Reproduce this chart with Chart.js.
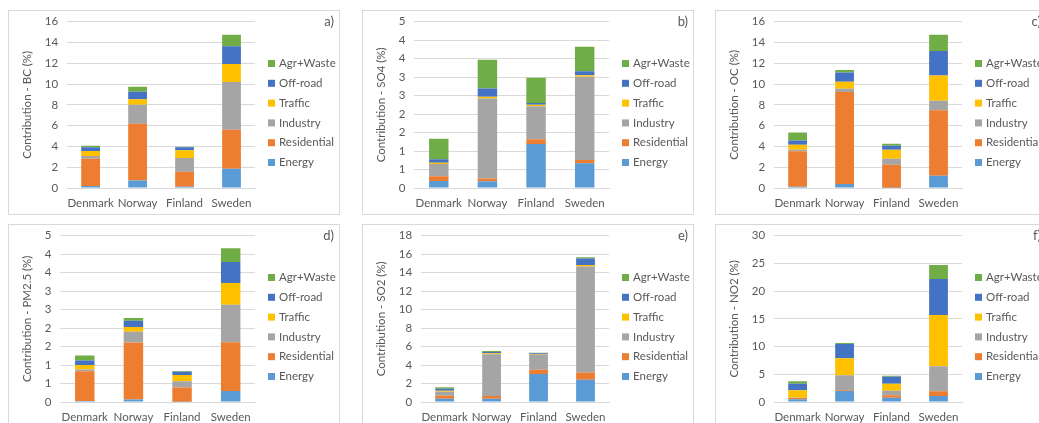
<!DOCTYPE html>
<html>
<head>
<meta charset="utf-8">
<script src="https://cdn.jsdelivr.net/npm/chart.js@4.4.1/dist/chart.umd.min.js"></script>
<style>
  html, body { margin: 0; padding: 0; background: #fff; overflow: hidden; }
  body { width: 1039px; height: 423px; position: relative; }
  .panel { position: absolute; width: 332px; height: 205px; box-sizing: border-box;
           border: 1px solid #d9d9d9; background: #fff; }
  .panel canvas { position: absolute; left: 0; top: 0; }
  #pa { left: 8px;   top: 10px; }
  #pb { left: 362px; top: 10px; }
  #pc { left: 715px; top: 10px; }
  #pd { left: 8px;   top: 224px; }
  #pe { left: 362px; top: 224px; }
  #pf { left: 715px; top: 224px; }
</style>
</head>
<body>
<div class="panel" id="pa"><canvas id="ca" width="330" height="203"></canvas></div>
<div class="panel" id="pb"><canvas id="cb" width="330" height="203"></canvas></div>
<div class="panel" id="pc"><canvas id="cc" width="330" height="203"></canvas></div>
<div class="panel" id="pd"><canvas id="cd" width="330" height="203"></canvas></div>
<div class="panel" id="pe"><canvas id="ce" width="330" height="203"></canvas></div>
<div class="panel" id="pf"><canvas id="cf" width="330" height="203"></canvas></div>
<script>
// Countries on the x axis and emission sectors stacked in each bar
const countries = ['Denmark', 'Norway', 'Finland', 'Sweden'];
const sectors = ['Energy', 'Residential', 'Industry', 'Traffic', 'Off-road', 'Agr+Waste'];
const sectorColors = ['#5B9BD5', '#ED7D31', '#A5A5A5', '#FFC000', '#4472C4', '#70AD47'];

// Contribution (%) per sector (rows, same order as sectors) and country (columns)
const bc = [
  [0.20, 0.71, 0.13, 1.86],
  [2.62, 5.48, 1.44, 3.75],
  [0.26, 1.82, 1.31, 4.58],
  [0.48, 0.52, 0.74, 1.73],
  [0.35, 0.73, 0.29, 1.73],
  [0.16, 0.48, 0.06, 1.09]
];
const so4 = [
  [0.19, 0.18, 1.19, 0.67],
  [0.13, 0.08, 0.13, 0.09],
  [0.33, 2.16, 0.89, 2.25],
  [0.03, 0.05, 0.04, 0.04],
  [0.10, 0.22, 0.05, 0.11],
  [0.55, 0.78, 0.68, 0.66]
];
const oc = [
  [0.13, 0.38, 0.03, 1.19],
  [3.40, 8.85, 2.21, 6.28],
  [0.16, 0.32, 0.58, 0.93],
  [0.48, 0.67, 0.87, 2.43],
  [0.41, 0.90, 0.38, 2.34],
  [0.77, 0.23, 0.19, 1.57]
];
const pm25 = [
  [0.03, 0.07, 0.01, 0.30],
  [0.80, 1.54, 0.38, 1.32],
  [0.05, 0.29, 0.17, 1.01],
  [0.12, 0.13, 0.17, 0.59],
  [0.12, 0.17, 0.09, 0.57],
  [0.14, 0.07, 0.02, 0.37]
];
const so2 = [
  [0.36, 0.36, 3.03, 2.42],
  [0.33, 0.29, 0.47, 0.76],
  [0.43, 4.51, 1.59, 11.48],
  [0.11, 0.11, 0.04, 0.18],
  [0.21, 0.15, 0.14, 0.68],
  [0.15, 0.10, 0.07, 0.15]
];
const no2 = [
  [0.48, 1.98, 0.78, 1.08],
  [0.24, 0.12, 0.42, 0.84],
  [0.06, 2.71, 0.84, 4.51],
  [1.32, 3.06, 1.27, 9.26],
  [1.21, 2.59, 1.26, 6.49],
  [0.42, 0.18, 0.18, 2.52]
];

// Value-axis settings per panel: upper bound, step, and whether labels are shown rounded to integers
const axisMax  = [16, 4.5, 16, 4.5, 18, 30];
const axisStep = [2, 0.5, 2, 0.5, 2, 5];
const roundLabels = [false, true, false, true, false, false];

const panelTags = ['a)', 'b)', 'c)', 'd)', 'e)', 'f)'];
const axisTitles = ['Contribution - BC (%)', 'Contribution - SO4 (%)', 'Contribution - OC (%)',
                    'Contribution - PM2.5 (%)', 'Contribution - SO2 (%)', 'Contribution - NO2 (%)'];
const panelData = [bc, so4, oc, pm25, so2, no2];
const canvasIds = ['ca', 'cb', 'cc', 'cd', 'ce', 'cf'];

const FONT = 'Lato, "Open Sans", sans-serif';
const TEXT = '#595959';

// Legend (top item = last sector) and the panel letter, drawn beside the plot
const sideLegend = {
  id: 'sideLegend',
  afterDraw(chart, args, opts) {
    const ctx = chart.ctx;
    const ds = chart.data.datasets;
    const x = chart.chartArea.right + 13;
    ctx.save();
    ctx.font = '11.5px ' + FONT;
    ctx.textBaseline = 'middle';
    ctx.textAlign = 'left';
    for (let i = ds.length - 1, k = 0; i >= 0; i--, k++) {
      const y = 52.5 + k * 19.8;
      ctx.fillStyle = ds[i].backgroundColor;
      ctx.fillRect(x, y - 3.5, 7, 7);
      ctx.fillStyle = TEXT;
      ctx.fillText(ds[i].label, x + 11, y);
    }
    ctx.font = '13px ' + FONT;
    ctx.textAlign = 'right';
    ctx.fillText(opts.tag, 325, 11);
    ctx.restore();
  }
};

panelData.forEach((rows, p) => {
  const datasets = sectors.map((name, s) => ({
    label: name,
    data: rows[s],
    backgroundColor: sectorColors[s],
    borderWidth: 0,
    barPercentage: 0.4,
    categoryPercentage: 1.0
  }));
  new Chart(document.getElementById(canvasIds[p]), {
    type: 'bar',
    data: { labels: countries, datasets },
    plugins: [sideLegend],
    options: {
      responsive: false,
      animation: false,
      devicePixelRatio: 1,
      layout: { padding: { left: 11, right: 84, top: 10.7, bottom: 0 } },
      plugins: {
        legend: { display: false },
        tooltip: { enabled: false },
        sideLegend: { tag: panelTags[p] }
      },
      scales: {
        x: {
          stacked: true,
          grid: { display: false, drawTicks: false },
          border: { display: true, color: '#d9d9d9' },
          ticks: { color: TEXT, font: { family: FONT, size: 11.5 }, padding: 8,
                   maxRotation: 0, minRotation: 0, autoSkip: false },
          afterFit: (scale) => { scale.height = 26; }
        },
        y: {
          stacked: true,
          min: 0,
          max: axisMax[p],
          grid: { color: '#d9d9d9', drawTicks: false },
          border: { display: false },
          ticks: {
            stepSize: axisStep[p],
            autoSkip: false,
            color: TEXT,
            font: { family: FONT, size: 11.5 },
            padding: 9,
            callback: (v) => roundLabels[p] ? String(Math.round(v)) : String(v)
          },
          title: {
            display: true,
            text: axisTitles[p],
            color: TEXT,
            font: { family: FONT, size: 11.5 },
            padding: { top: 0, bottom: 2 }
          },
          afterFit: (scale) => { scale.paddingTop = 0; scale.paddingBottom = 0; }
        }
      }
    }
  });
});
</script>
</body>
</html>
